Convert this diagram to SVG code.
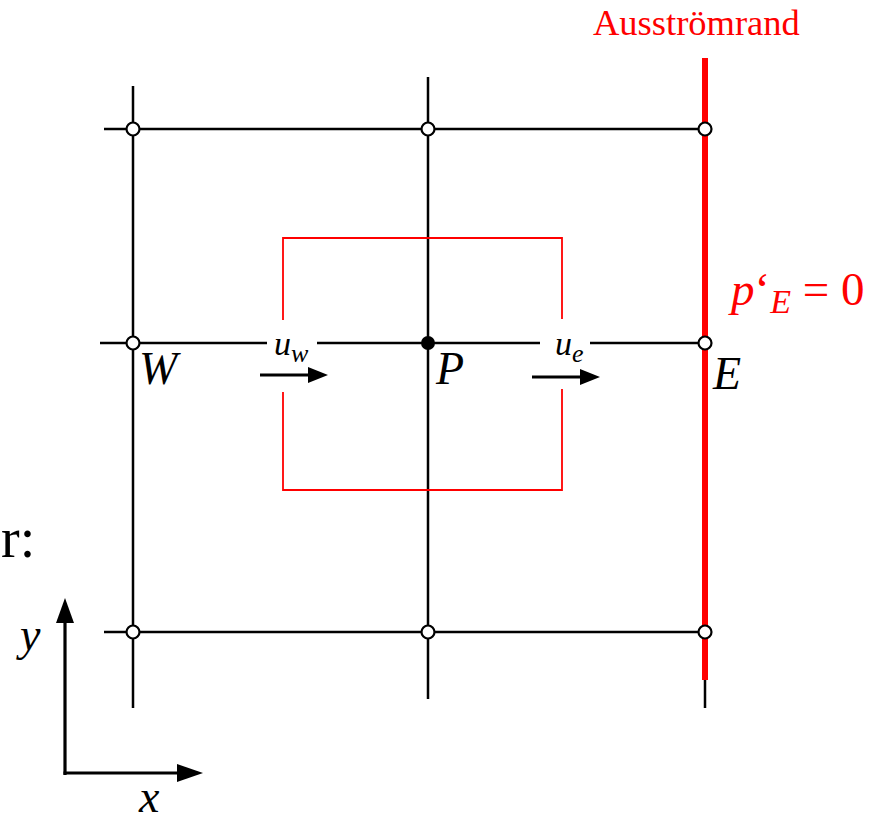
<svg xmlns="http://www.w3.org/2000/svg" width="879" height="822" viewBox="0 0 879 822">
<style>
.grid{stroke:#000;stroke-width:2.5;fill:none}
.cv{fill:none;stroke:#ff0000;stroke-width:1.8}
.node{fill:#fff;stroke:#000;stroke-width:2.2}
.lbl{font-family:"Liberation Serif",serif;font-style:italic;fill:#000}
.red{fill:#ff0000}
.arr{stroke:#000;stroke-width:3.2;fill:none}
</style>
<rect width="879" height="822" fill="#fff"/>
<g id="connectors">
<line class="grid" x1="133" y1="86" x2="133" y2="708"/>
<line class="grid" x1="428" y1="77" x2="428" y2="699"/>
<line class="grid" x1="705" y1="60" x2="705" y2="708"/>
<line class="grid" x1="104" y1="129" x2="705" y2="129"/>
<line class="grid" x1="100" y1="343" x2="267" y2="343"/>
<line class="grid" x1="317" y1="343" x2="540" y2="343"/>
<line class="grid" x1="590" y1="343" x2="705" y2="343"/>
<line class="grid" x1="104" y1="632" x2="705" y2="632"/>
<line x1="705" y1="58" x2="705" y2="680" stroke="#ff0000" stroke-width="6"/>
<path class="cv" d="M283,320 V238 H562 V319"/>
<path class="cv" d="M283,392 V490 H562 V389"/>
<line class="arr" x1="260" y1="375" x2="312" y2="375"/>
<path d="M308,367 L328,375 L308,383 z" fill="#000"/>
<line class="arr" x1="532" y1="377" x2="584" y2="377"/>
<path d="M580,369 L600,377 L580,385 z" fill="#000"/>
<line class="arr" x1="65" y1="775" x2="65" y2="620"/>
<path d="M56,623 L65,598 L74,623 z" fill="#000"/>
<line class="arr" x1="63.5" y1="773" x2="180" y2="773"/>
<path d="M177,764 L203,773 L177,782 z" fill="#000"/>
</g>
<g id="node-NW"><circle class="node" cx="133" cy="129" r="6.5"/></g>
<g id="node-N"><circle class="node" cx="428" cy="129" r="6.5"/></g>
<g id="node-NE"><circle class="node" cx="705" cy="129" r="6.5"/></g>
<g id="node-W"><circle class="node" cx="133" cy="343" r="6.5"/><text class="lbl" x="139" y="384" font-size="46">W</text></g>
<g id="node-P"><circle cx="428" cy="343" r="7" fill="#000"/><text class="lbl" x="436" y="384" font-size="46">P</text></g>
<g id="node-E"><circle class="node" cx="705" cy="343" r="6.5"/><text class="lbl" x="713" y="389" font-size="46">E</text></g>
<g id="node-SW"><circle class="node" cx="133" cy="632" r="6.5"/></g>
<g id="node-S"><circle class="node" cx="428" cy="632" r="6.5"/></g>
<g id="node-SE"><circle class="node" cx="705" cy="632" r="6.5"/></g>
<g id="labels">
<text class="lbl" x="274" y="355" font-size="34">u<tspan font-size="26" dy="7">w</tspan></text>
<text class="lbl" x="555" y="355" font-size="34">u<tspan font-size="26" dy="7">e</tspan></text>
<text x="593" y="35" font-family="'Liberation Serif',serif" font-size="36.5" class="red">Ausströmrand</text>
<text x="731" y="305" font-family="'Liberation Serif',serif" font-size="47" class="red"><tspan font-style="italic">p</tspan>‘<tspan font-style="italic" font-size="34" dy="8">E</tspan><tspan dy="-8"> = 0</tspan></text>
<text x="1" y="557" font-family="'Liberation Serif',serif" font-size="56">r:</text>
<text class="lbl" x="20" y="650" font-size="46">y</text>
<text class="lbl" x="139" y="812" font-size="46">x</text>
</g>
</svg>
